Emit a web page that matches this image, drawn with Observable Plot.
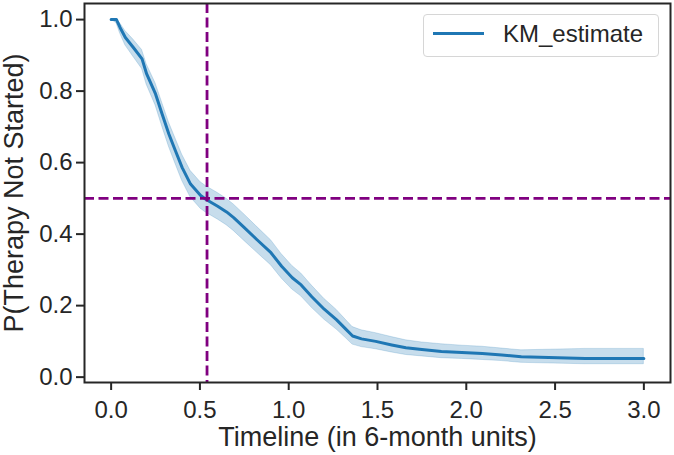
<!DOCTYPE html>
<html>
<head>
<meta charset="utf-8">
<script src="https://cdn.jsdelivr.net/npm/d3@7"></script>
<script src="https://cdn.jsdelivr.net/npm/@observablehq/plot@0.6"></script>
<style>
  html, body { margin: 0; padding: 0; background: white; }
  #wrap { position: relative; width: 674px; height: 455px; font-family: "Liberation Sans", Arial, sans-serif; }
  #legend { position: absolute; left: 423px; top: 14px; width: 236px; height: 43px; border: 1px solid #d6d6d6; border-radius: 4px; background: rgba(255,255,255,0.85); box-sizing: border-box; }
  #legend .sw { position: absolute; left: 9px; top: 17px; width: 51px; height: 3px; background: #1f77b4; }
  #legend .lb { position: absolute; left: 79px; top: 5px; font-size: 24px; color: #262626; line-height: 28px; }
</style>
</head>
<body>
<div id="wrap"><div id="legend"><div class="sw"></div><div class="lb">KM_estimate</div></div></div>
<script>
// Kaplan-Meier estimate (times in 6-month units)
const times    = [0, 0.03, 0.05, 0.08, 0.125, 0.174, 0.2, 0.25, 0.287, 0.325, 0.362, 0.4, 0.447, 0.504, 0.535, 0.6, 0.65, 0.69, 0.75, 0.82, 0.9, 0.96, 1.02, 1.07, 1.13, 1.2, 1.27, 1.32, 1.36, 1.41, 1.49, 1.58, 1.66, 1.75, 1.86, 1.975, 2.09, 2.2, 2.31, 2.67, 3.0];
const survival = [1.0, 1.0, 0.978, 0.95, 0.922, 0.89, 0.848, 0.792, 0.736, 0.68, 0.633, 0.586, 0.54, 0.508, 0.497, 0.478, 0.462, 0.446, 0.418, 0.385, 0.348, 0.31, 0.278, 0.258, 0.225, 0.19, 0.16, 0.135, 0.115, 0.107, 0.1, 0.09, 0.082, 0.077, 0.072, 0.069, 0.066, 0.062, 0.057, 0.052, 0.052];
const lower    = [1.0, 0.99, 0.962, 0.928, 0.896, 0.862, 0.818, 0.760, 0.702, 0.645, 0.597, 0.549, 0.503, 0.471, 0.460, 0.441, 0.425, 0.409, 0.381, 0.349, 0.313, 0.276, 0.245, 0.226, 0.194, 0.161, 0.133, 0.110, 0.091, 0.084, 0.078, 0.069, 0.062, 0.058, 0.053, 0.051, 0.048, 0.045, 0.040, 0.036, 0.036];
const upper    = [1.0, 1.0, 0.99, 0.968, 0.944, 0.915, 0.875, 0.822, 0.768, 0.713, 0.668, 0.622, 0.577, 0.545, 0.534, 0.515, 0.499, 0.483, 0.455, 0.421, 0.383, 0.344, 0.311, 0.290, 0.256, 0.219, 0.188, 0.161, 0.140, 0.131, 0.123, 0.112, 0.103, 0.097, 0.092, 0.088, 0.085, 0.080, 0.075, 0.079, 0.079];

const medianTime = [0.54];
const medianLevel = [0.5];
const xTicks = [0, 0.5, 1, 1.5, 2, 2.5, 3];
const yTicks = [0, 0.2, 0.4, 0.6, 0.8, 1.0];
const xTitle = "Timeline (in 6-month units)";
const yTitle = "P(Therapy Not Started)";

const data = times.map((t, i) => ({t, s: survival[i], lo: lower[i], hi: upper[i]}));

const chart = Plot.plot({
  width: 674,
  height: 455,
  marginLeft: 84,
  marginRight: 4,
  marginTop: 3,
  marginBottom: 73,
  x: {domain: [-0.15, 3.15]},
  y: {domain: [-0.015, 1.045]},
  style: {fontFamily: "'Liberation Sans', Arial, sans-serif", fontSize: "24px", color: "#262626", background: "white", overflow: "visible"},
  marks: [
    Plot.areaY(data, {x: "t", y1: "lo", y2: "hi", fill: "#1f77b4", fillOpacity: 0.25, stroke: "#1f77b4", strokeOpacity: 0.2, strokeWidth: 1}),
    Plot.lineY(data, {x: "t", y: "s", stroke: "#1f77b4", strokeWidth: 3}),
    Plot.ruleX(medianTime, {stroke: "purple", strokeWidth: 2.8, strokeDasharray: "10,4.5"}),
    Plot.ruleY(medianLevel, {stroke: "purple", strokeWidth: 2.8, strokeDasharray: "10,4.5"}),
    Plot.frame({strokeWidth: 2}),
    Plot.axisX({ticks: xTicks, tickFormat: d => d.toFixed(1), tickSize: 8, tickPadding: 10, strokeWidth: 2, fontSize: 24, label: null}),
    Plot.axisY({ticks: yTicks, tickFormat: d => d.toFixed(1), tickSize: 8, tickPadding: 4, strokeWidth: 2, fontSize: 24, label: null}),
    Plot.text([xTitle], {frameAnchor: "bottom", lineAnchor: "middle", textAnchor: "middle", dy: 55, fontSize: 27, fill: "#262626"}),
    Plot.text([yTitle], {frameAnchor: "left", lineAnchor: "middle", textAnchor: "middle", rotate: -90, dx: -70, fontSize: 27, fill: "#262626"})
  ]
});
document.getElementById("wrap").prepend(chart);
</script>
</body>
</html>
